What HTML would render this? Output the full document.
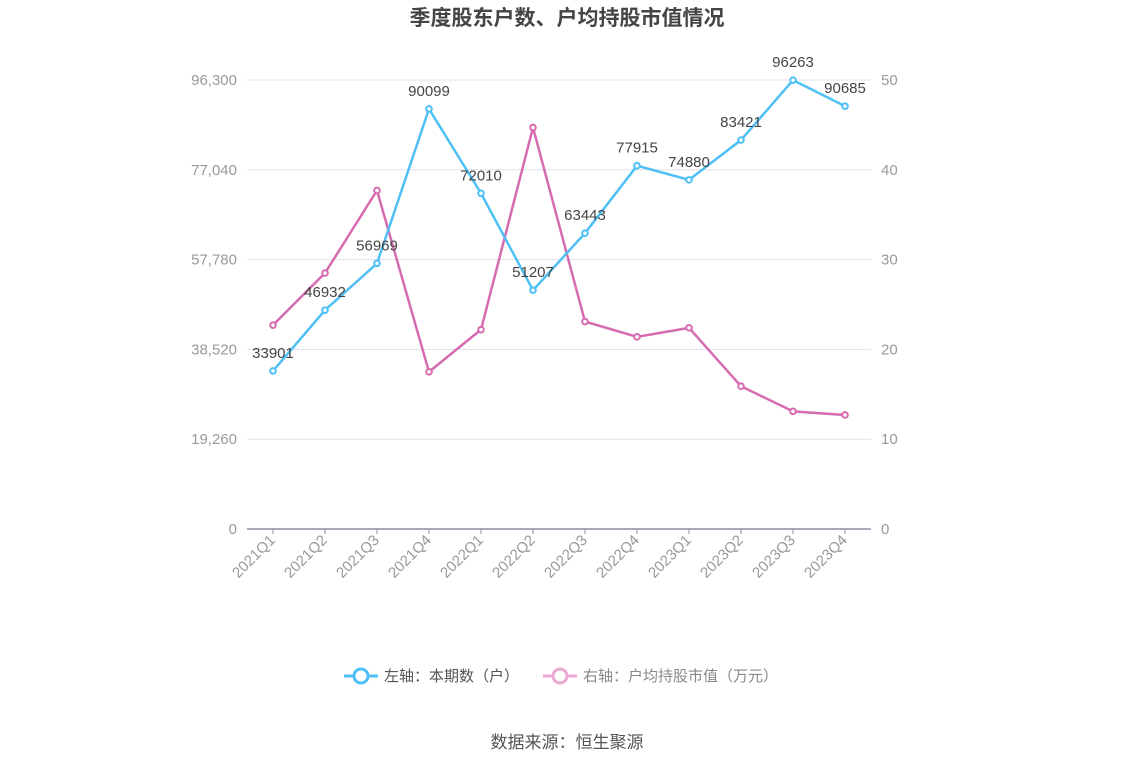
<!DOCTYPE html>
<html><head><meta charset="utf-8"><style>
body{margin:0;background:#fff;width:1134px;height:766px;overflow:hidden;font-family:"Liberation Sans","Noto Sans CJK SC",sans-serif}
</style></head><body>
<svg id="c" width="1134" height="766" font-family="Liberation Sans, Noto Sans CJK SC, sans-serif">
<text x="567" y="25" text-anchor="middle" font-size="21" font-weight="bold" fill="#444">季度股东户数、户均持股市值情况</text>
<g>
<g><line x1="344" y1="676" x2="378" y2="676" stroke="#4fc0f5" stroke-width="3"/><circle cx="361" cy="676" r="7" fill="#fff" stroke="#4fc0f5" stroke-width="3"/><text x="384" y="681" font-size="15" fill="#555">左轴：本期数（户）</text></g>
<g><line x1="543" y1="676" x2="577" y2="676" stroke="#eaa8d2" stroke-width="3"/><circle cx="560" cy="676" r="7" fill="#fff" stroke="#eaa8d2" stroke-width="3"/><text x="583" y="681" font-size="15" fill="#888">右轴：户均持股市值（万元）</text></g>
</g>
<text x="567" y="748" text-anchor="middle" font-size="17" fill="#555">数据来源：恒生聚源</text>
</svg>
<script>
const categories=["2021Q1","2021Q2","2021Q3","2021Q4","2022Q1","2022Q2","2022Q3","2022Q4","2023Q1","2023Q2","2023Q3","2023Q4"];
const holders=[33901,46932,56969,90099,72010,51207,63443,77915,74880,83421,96263,90685];
const avgValue=[22.7,28.5,37.7,17.5,22.2,44.7,23.1,21.4,22.4,15.9,13.1,12.7];
const leftTicks=[0,19260,38520,57780,77040,96300];
const rightTicks=[0,10,20,30,40,50];
const svg=document.getElementById('c');const NS='http://www.w3.org/2000/svg';
const X0=247,X1=871,Y0=529,Y1=80;
const step=(X1-X0)/categories.length;
const x=i=>X0+step*(i+0.5);
const yl=v=>Y0-(v/96300)*(Y0-Y1);
const yr=v=>Y0-(v/50)*(Y0-Y1);
function mk(t,a,p){const e=document.createElementNS(NS,t);for(const k in a)e.setAttribute(k,a[k]);(p||svg).appendChild(e);return e;}
leftTicks.forEach((v,i)=>{
 if(i>0){const g=mk('line',{x1:X0,x2:X1,y1:yl(v),y2:yl(v),stroke:'#e0e0ee','stroke-width':1});
 
 }
 const t=mk('text',{x:237,y:yl(v)+5,'text-anchor':'end','font-size':15,fill:'#999'});t.textContent=v.toLocaleString('en-US');
 
 
});
rightTicks.forEach(v=>{const t=mk('text',{x:881,y:yr(v)+5,'font-size':15,fill:'#999'});t.textContent=v;
 
 });
const ax=mk('line',{x1:X0,x2:X1,y1:Y0,y2:Y0,stroke:'#8a8f9e','stroke-width':1.5});


categories.forEach((c,i)=>{
 mk('line',{x1:x(i),x2:x(i),y1:Y0,y2:Y0+5,stroke:'#8a8f9e'});
 const t=mk('text',{x:x(i)+3,y:Y0+12,'text-anchor':'end','font-size':15,fill:'#999',transform:`rotate(-45 ${x(i)+3} ${Y0+12})`});t.textContent=c;
 
 
});
function series(vals,fy,col,name,labels){
 const p=mk('polyline',{points:vals.map((v,i)=>x(i)+','+fy(v)).join(' '),fill:'none',stroke:col,'stroke-width':2.5});
 
 
 vals.forEach((v,i)=>{const c=mk('circle',{cx:x(i),cy:fy(v),r:2.8,fill:'#fff',stroke:col,'stroke-width':2});
  
  
  if(labels){const t=mk('text',{x:x(i),y:fy(v)-13,'text-anchor':'middle','font-size':15,fill:'#444'});t.textContent=v;
   
   }
 });
}
series(avgValue,yr,'#d66bb0','avg-value',false);
series(holders,yl,'#4fc0f5','holders',true);
</script>
</body></html>
